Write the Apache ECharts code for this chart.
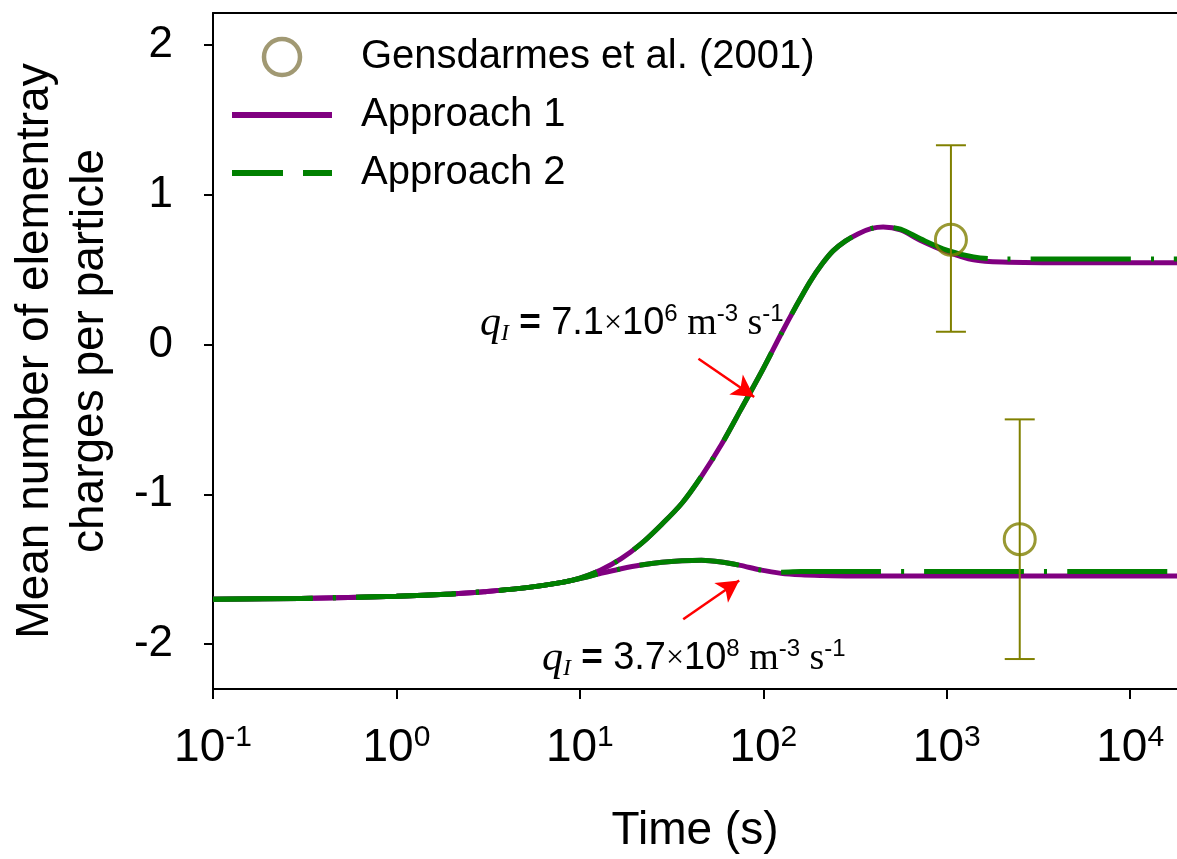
<!DOCTYPE html>
<html><head><meta charset="utf-8">
<script src="https://cdn.jsdelivr.net/npm/echarts@6/dist/echarts.min.js"></script>
<style>html,body{margin:0;padding:0;background:#fff}#c{width:1177px;height:859px}</style>
</head><body><div id="c"></div>
<script>
// ---- data ----
const xTicks = [0.1, 1, 10, 100, 1000, 10000];
const yTicks = [-2, -1, 0, 1, 2];

const upperTime = [0.1, 0.3, 1, 2, 3, 5, 8, 10, 13, 16.8, 21.6, 28, 36, 46, 59, 75, 100, 125, 150, 180, 210, 240, 280, 330, 390, 450, 560, 720, 1000, 1400, 2000, 5000, 20000];
const upperApproach1 = [-1.70, -1.695, -1.68, -1.665, -1.65, -1.625, -1.588, -1.56, -1.505, -1.43, -1.33, -1.20, -1.06, -0.88, -0.67, -0.44, -0.16, 0.07, 0.25, 0.42, 0.54, 0.625, 0.69, 0.74, 0.775, 0.785, 0.765, 0.695, 0.62, 0.565, 0.55, 0.545, 0.545];
const upperApproach2 = [-1.70, -1.695, -1.68, -1.665, -1.65, -1.625, -1.588, -1.56, -1.505, -1.43, -1.33, -1.20, -1.06, -0.88, -0.67, -0.44, -0.16, 0.07, 0.25, 0.42, 0.54, 0.625, 0.69, 0.74, 0.775, 0.785, 0.77, 0.705, 0.63, 0.585, 0.57, 0.57, 0.57];

const lowerTime = [0.1, 0.3, 1, 2, 3, 5, 8, 10, 13, 16.8, 21.6, 28, 36, 46, 59, 75, 96, 125, 161, 207, 300, 1000, 20000];
const lowerApproach1 = [-1.70, -1.695, -1.68, -1.665, -1.65, -1.625, -1.588, -1.563, -1.528, -1.497, -1.472, -1.454, -1.444, -1.44, -1.452, -1.475, -1.505, -1.528, -1.538, -1.542, -1.545, -1.545, -1.545];
const lowerApproach2 = [-1.70, -1.695, -1.68, -1.665, -1.65, -1.625, -1.588, -1.563, -1.528, -1.497, -1.472, -1.454, -1.444, -1.44, -1.452, -1.475, -1.505, -1.52, -1.516, -1.515, -1.515, -1.515, -1.515];

const expTime = [1054, 2500];
const expValue = [0.70, -1.30];
const expLow = [0.085, -2.10];
const expHigh = [1.33, -0.50];

const arrowUpper = [[44.3, -0.095], [89.2, -0.35]];
const arrowLower = [[36.6, -1.834], [73.9, -1.575]];

// ---- chart ----
const SANS = '"Liberation Sans", Arial, sans-serif';
const SERIF = '"Liberation Serif", "Times New Roman", serif';
const PURPLE = '#800080', GREEN = '#008000', OLIVE = '#808000';
const X_MIN = 0.1, X_MAX = 18000;

const zip = (a, b) => a.map((v, i) => [v, b[i]]);

const chart = echarts.init(document.getElementById('c'), null, {renderer: 'canvas'});

const annRich = {
  q: {fontFamily: SERIF, fontStyle: 'italic', fontSize: 42, lineHeight: 44, color: '#000'},
  sub: {fontFamily: SERIF, fontStyle: 'italic', fontSize: 24, lineHeight: 16, verticalAlign: 'bottom', color: '#000'},
  eq: {fontFamily: SANS, fontWeight: 'bold', fontSize: 37, lineHeight: 44, color: '#000'},
  n: {fontFamily: SANS, fontSize: 38, lineHeight: 44, color: '#000'},
  x: {fontFamily: SERIF, fontSize: 32, lineHeight: 44, color: '#9a9a9a'},
  u: {fontFamily: SERIF, fontSize: 38, lineHeight: 44, color: '#000'},
  sup: {fontFamily: SANS, fontSize: 24, lineHeight: 24, verticalAlign: 'top', color: '#000'}
};

const option = {
  animation: false,
  backgroundColor: '#fff',
  grid: {left: 211, right: 0, top: 13, bottom: 167, show: false},
  legend: {
    orient: 'vertical', left: 227, top: 30,
    itemWidth: 100, itemHeight: 36, itemGap: 14,
    textStyle: {fontFamily: SANS, fontSize: 40, lineHeight: 44, color: '#000', padding: [0, 0, 0, 24]},
    selectedMode: false,
    data: [
      {name: 'Gensdarmes et al. (2001)', icon: 'circle', itemStyle: {color: 'rgba(0,0,0,0)', borderColor: '#8a8050', borderWidth: 4.5}},
      {name: 'Approach 1', icon: 'path://M0,0H100V6H0Z', itemStyle: {color: PURPLE, borderWidth: 0}},
      {name: 'Approach 2', icon: 'path://M0,0H51V6H0Z M71,0H100V6H71Z', itemStyle: {color: GREEN, borderWidth: 0}}
    ]
  },
  xAxis: [{
    type: 'log', logBase: 10, min: X_MIN, max: X_MAX, position: 'bottom',
    name: 'Time (s)', nameLocation: 'middle', nameGap: 119,
    nameTextStyle: {fontFamily: SANS, fontSize: 46, color: '#000'},
    axisLine: {show: true, onZero: false, lineStyle: {color: '#000', width: 2}},
    axisTick: {show: true, length: 10, inside: false, lineStyle: {color: '#000', width: 2}, customValues: xTicks},
    splitLine: {show: false}, minorTick: {show: false},
    axisLabel: {
      customValues: xTicks, margin: 34,
      formatter: v => '{b|10}{s|' + Math.round(Math.log10(v)) + '}',
      rich: {
        b: {fontFamily: SANS, fontSize: 46, lineHeight: 50, color: '#000'},
        s: {fontFamily: SANS, fontSize: 30, lineHeight: 30, verticalAlign: 'top', color: '#000'}
      }
    }
  }, {
    type: 'log', logBase: 10, min: X_MIN, max: X_MAX, position: 'top',
    axisLine: {show: true, onZero: false, lineStyle: {color: '#000', width: 2}},
    axisTick: {show: false}, axisLabel: {show: false}, splitLine: {show: false}, minorTick: {show: false}
  }],
  yAxis: {
    type: 'value', min: -2.3, max: 2.213,
    name: 'Mean number of elementray\ncharges per particle', nameLocation: 'middle', nameGap: 95, nameRotate: 90,
    nameTextStyle: {fontFamily: SANS, fontSize: 46, lineHeight: 55, color: '#000'},
    axisLine: {show: true, onZero: false, lineStyle: {color: '#000', width: 2}},
    axisTick: {show: true, length: 9, lineStyle: {color: '#000', width: 2}, customValues: yTicks},
    splitLine: {show: false},
    axisLabel: {customValues: yTicks, margin: 40, fontFamily: SANS, fontSize: 44, color: '#000'}
  },
  series: [
    {name: 'Approach 1', type: 'line', data: zip(upperTime, upperApproach1), smooth: 0.3, symbol: 'none',
     lineStyle: {color: PURPLE, width: 5}, itemStyle: {color: PURPLE}, z: 2},
    {name: 'Approach 1', type: 'line', data: zip(lowerTime, lowerApproach1), smooth: 0.3, symbol: 'none',
     lineStyle: {color: PURPLE, width: 5}, itemStyle: {color: PURPLE}, z: 2},
    {name: 'Approach 2', type: 'line', data: zip(upperTime, upperApproach2), smooth: 0.3, symbol: 'none',
     lineStyle: {color: GREEN, width: 5, type: [100, 20, 3, 20]}, itemStyle: {color: GREEN}, z: 3},
    {name: 'Approach 2', type: 'line', data: zip(lowerTime, lowerApproach2), smooth: 0.3, symbol: 'none',
     lineStyle: {color: GREEN, width: 5, type: [100, 20, 3, 20]}, itemStyle: {color: GREEN}, z: 3},
    {type: 'custom', z: 4,
     data: expTime.map((t, i) => [t, expLow[i], expHigh[i]]),
     encode: {x: 0, y: [1, 2]},
     renderItem: (params, api) => {
       const t = api.value(0);
       const lo = api.coord([t, api.value(1)]);
       const hi = api.coord([t, api.value(2)]);
       const cw = 15;
       const st = {stroke: OLIVE, lineWidth: 2};
       return {type: 'group', children: [
         {type: 'line', shape: {x1: lo[0], y1: lo[1], x2: hi[0], y2: hi[1]}, style: st},
         {type: 'line', shape: {x1: lo[0] - cw, y1: lo[1], x2: lo[0] + cw, y2: lo[1]}, style: st},
         {type: 'line', shape: {x1: hi[0] - cw, y1: hi[1], x2: hi[0] + cw, y2: hi[1]}, style: st}
       ]};
     },
     markLine: {
       silent: true, symbol: ['none', 'arrow'], symbolSize: [18, 22],
       label: {show: false},
       lineStyle: {color: '#ff0000', width: 2.5, type: 'solid'},
       data: [
         [{coord: arrowUpper[0]}, {coord: arrowUpper[1]}],
         [{coord: arrowLower[0]}, {coord: arrowLower[1]}]
       ]
     }
    },
    {name: 'Gensdarmes et al. (2001)', type: 'scatter', z: 5,
     data: zip(expTime, expValue), symbol: 'circle', symbolSize: 31,
     itemStyle: {color: 'rgba(0,0,0,0)', borderColor: OLIVE, borderWidth: 3}}
  ],
  graphic: [
    {type: 'text', left: 480, top: 302, silent: true,
     style: {text: '{q|q}{sub|I}{eq| = }{n|7.1}{x|×}{n|10}{sup|6}{u| m}{sup|-3}{u| s}{sup|-1}', rich: annRich}},
    {type: 'text', left: 542, top: 637, silent: true,
     style: {text: '{q|q}{sub|I}{eq| = }{n|3.7}{x|×}{n|10}{sup|8}{u| m}{sup|-3}{u| s}{sup|-1}', rich: annRich}}
  ]
};
chart.setOption(option);
</script>
</body></html>
